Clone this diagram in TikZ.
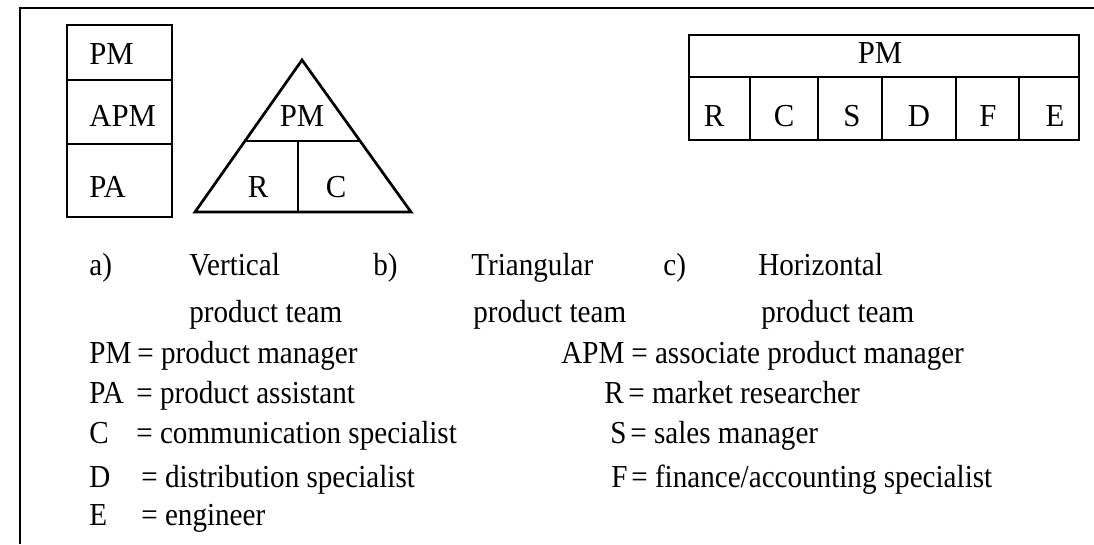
\documentclass[tikz,border=0pt]{standalone}
\usepackage{fontspec}
\setmainfont{Liberation Serif}[FakeStretch=0.91]
\newfontfamily\lblfont{Liberation Serif}[FakeStretch=0.96]
\usetikzlibrary{calc}
\begin{document}
\begin{tikzpicture}[x=1pt,y=-1pt,line width=2.7pt,
  lbl/.style={font=\lblfont\fontsize{32}{36}\selectfont,inner sep=0pt,anchor=base west},
  clbl/.style={font=\lblfont\fontsize{32}{36}\selectfont,inner sep=0pt,anchor=base},
  txt/.style={font=\fontsize{32}{36}\selectfont,inner sep=0pt,anchor=base west}]
\useasboundingbox (0,0) rectangle (1094,544);
% frame
\coordinate (fr) at (1094,8);
\coordinate (fc) at (20,8);
\coordinate (fb) at (20,544);
\draw (fr) -- (fc) -- (fb);
% a) vertical box
\coordinate (v1) at (67,25);
\coordinate (v2) at (172,217);
\draw (v1) rectangle (v2);
\draw (67,80) -- (172,80);
\draw (67,144) -- (172,144);
\node[lbl] (vpm) at (88,64) {PM};
\node[lbl] (vapm) at (88,126) {APM};
\node[lbl] (vpa) at (88,197) {PA};
% b) triangle
\coordinate (tA) at (302,60);
\coordinate (tL) at (195,212);
\coordinate (tR) at (411,212);
\draw[line join=miter] (tA) -- (tL) -- (tR) -- cycle;
\coordinate (tm1) at ($(tA)!0.533!(tL)$);
\coordinate (tm2) at ($(tA)!0.533!(tR)$);
\draw (tm1) -- (tm2);
\coordinate (tv1) at (298,141);
\coordinate (tv2) at (298,212);
\draw (tv1) -- (tv2);
\node[clbl] (tpm) at (302,126) {PM};
\node[clbl] (tr) at (258,197) {R};
\node[clbl] (tc) at (336,197) {C};
% c) horizontal box
\coordinate (h1) at (689,35);
\coordinate (h2) at (1079,140);
\draw (h1) rectangle (h2);
\draw (689,77) -- (1079,77);
\foreach \x in {750,818,882,956,1019} \draw (\x,77) -- (\x,140);
\node[clbl] (hpm) at (880,63) {PM};
\node[clbl] (hr) at (714,126) {R};
\node[clbl] (hc) at (784,126) {C};
\node[clbl] (hs) at (852,126) {S};
\node[clbl] (hd) at (919,126) {D};
\node[clbl] (hf) at (988,126) {F};
\node[clbl] (he) at (1055,126) {E};
% captions
\node[txt] (ca) at (88,275) {a)};
\node[txt] (cav) at (188,275) {Vertical};
\node[txt] (cb) at (372,275) {b)};
\node[txt] (cbt) at (470,275) {Triangular};
\node[txt] (cc) at (662,275) {c)};
\node[txt] (cch) at (757,275) {Horizontal};
\node[txt] (pa) at (188,322) {product team};
\node[txt] (pb) at (472,322) {product team};
\node[txt] (pc) at (760,322) {product team};
% legend left
\node[txt] (kpm) at (88,363) {PM};
\node[txt] (dpm) at (136,363) {= product manager};
\node[txt] (kpa) at (88,403) {PA};
\node[txt] (dpa) at (135,403) {= product assistant};
\node[txt] (kc) at (88,443) {C};
\node[txt] (dc) at (135,443) {= communication specialist};
\node[txt] (kd) at (88,487) {D};
\node[txt] (dd) at (140,487) {= distribution specialist};
\node[txt] (ke) at (88,525) {E};
\node[txt] (de) at (140,525) {= engineer};
% legend right
\node[txt] (kapm) at (560,363) {APM};
\node[txt] (dapm) at (630,363) {= associate product manager};
\node[txt] (kr) at (603,403) {R};
\node[txt] (dr) at (627,403) {= market researcher};
\node[txt] (ks) at (609,443) {S};
\node[txt] (ds) at (629,443) {= sales manager};
\node[txt] (kf) at (610,487) {F};
\node[txt] (df) at (630,487) {= finance/accounting specialist};
\end{tikzpicture}
\end{document}
